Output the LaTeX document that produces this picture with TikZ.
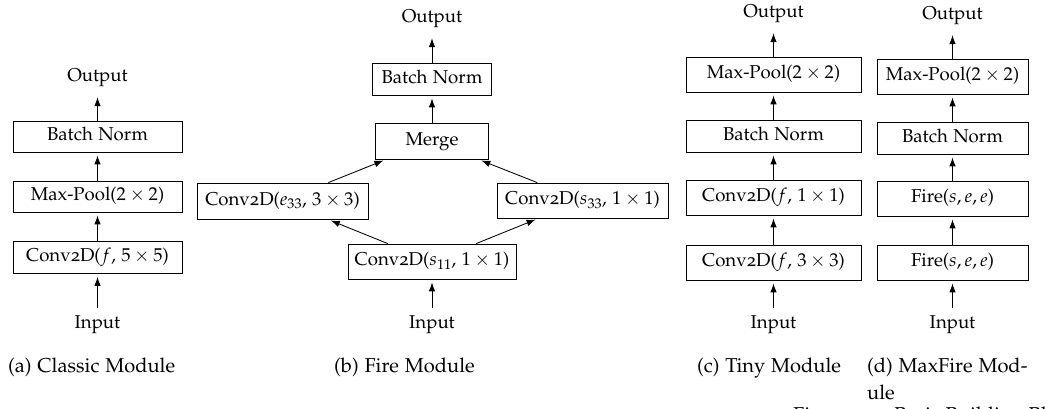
\documentclass[tikz,border=0pt]{standalone}
\usepackage[T1]{fontenc}
\usepackage[osf]{mathpazo}
\usetikzlibrary{arrows.meta}

\tikzset{
  box/.style={draw, line width=0.8pt, inner xsep=0pt, inner ysep=0pt,
              text height=13.5pt, text depth=5pt, minimum height=35pt},
  lab/.style={inner sep=0pt, anchor=base, text height=13.5pt, text depth=5pt},
  subcap/.style={inner sep=0pt, anchor=base west, font=\fontsize{20.1}{27}\selectfont},
  arr/.style={-{Latex[length=9pt,width=6.5pt]}, line width=0.85pt, shorten >=3pt},
  inarr/.style={arr, shorten <=6pt},
  outarr/.style={arr, shorten >=11pt}
}

\begin{document}
\begin{tikzpicture}[x=1pt, y=-1pt, font=\fontsize{18.6}{22}\selectfont]
\useasboundingbox (0,0) rectangle (1050,408);

% (a) classic module
\begin{scope}[every node/.append style={minimum width=169pt}]
  \node[box, minimum height=32pt] (acv) at (97.5,257.5) {Conv2D($f$, $5\times 5$)};
  \node[box, minimum height=31pt] (amp) at (97.5,196.5) {Max-Pool($2\times 2$)};
  \node[box, minimum height=31pt] (abn) at (97.5,136.5) {Batch Norm};
\end{scope}
\node[lab] (aout) at (97.5,81) {Output};
\node[lab] (ain) at (97.5,328) {Input};
\draw[inarr] (ain) -- (acv);
\draw[arr] (acv) -- (amp);
\draw[arr] (amp) -- (abn);
\draw[outarr] (abn) -- (aout);

% (b) fire module
\node[box, minimum width=168pt] (bsq) at (432,261.5) {Conv2D($s_{11}$, $1\times 1$)};
\node[box, minimum width=171pt, minimum height=36pt] (be) at (282.5,201) {Conv2D($e_{33}$, $3\times 3$)};
\node[box, minimum width=171pt] (bs) at (582.5,200.5) {Conv2D($s_{33}$, $1\times 1$)};
\node[box, minimum width=113pt, minimum height=36pt] (bmg) at (432,141) {Merge};
\node[box, minimum width=119pt, minimum height=32pt] (bbn) at (432,79) {Batch Norm};
\node[lab] (bout) at (432,22) {Output};
\node[lab] (bin) at (432,328) {Input};
\draw[inarr] (bin) -- (bsq);
\draw[arr] (bsq) -- (be);
\draw[arr] (bsq) -- (bs);
\draw[arr] (be) -- (bmg);
\draw[arr] (bs) -- (bmg);
\draw[arr] (bmg) -- (bbn);
\draw[outarr] (bbn) -- (bout);

% (c) tiny module
\begin{scope}[every node/.append style={minimum width=175pt}]
  \node[box] (ccv3) at (773.5,262.5) {Conv2D($f$, $3\times 3$)};
  \node[box] (ccv1) at (773.5,197.5) {Conv2D($f$, $1\times 1$)};
  \node[box, minimum height=32pt] (cbn) at (773.5,136) {Batch Norm};
  \node[box] (cmp) at (773.5,74.5) {Max-Pool($2\times 2$)};
\end{scope}
\node[lab] (cout) at (773.5,17) {Output};
\node[lab] (cin) at (773.5,328) {Input};
\draw[inarr] (cin) -- (ccv3);
\draw[arr] (ccv3) -- (ccv1);
\draw[arr] (ccv1) -- (cbn);
\draw[arr] (cbn) -- (cmp);
\draw[outarr] (cmp) -- (cout);

% (d) maxfire module
\begin{scope}[every node/.append style={minimum width=151pt}]
  \node[box] (df2) at (952.5,262.5) {Fire($s, e, e$)};
  \node[box] (df1) at (952.5,198.5) {Fire($s, e, e$)};
  \node[box, minimum height=32pt] (dbn) at (952.5,138) {Batch Norm};
  \node[box] (dmp) at (952.5,76.5) {Max-Pool($2\times 2$)};
\end{scope}
\node[lab] (dout) at (952.5,19) {Output};
\node[lab] (din) at (952.5,328) {Input};
\draw[inarr] (din) -- (df2);
\draw[arr] (df2) -- (df1);
\draw[arr] (df1) -- (dbn);
\draw[arr] (dbn) -- (dmp);
\draw[outarr] (dmp) -- (dout);

% sub-captions (the last one wraps onto a second line)
\node[subcap] (capa) at (8,372) {(a) Classic Module};
\node[subcap] (capb) at (334,372) {(b) Fire Module};
\node[subcap] (capc) at (697,372) {(c) Tiny Module};
\node[subcap, align=left] (capd) at (867,399) {(d) MaxFire Mod-\\ule};

% figure caption, running off the lower edge
\begin{scope}
  \clip (0,0) rectangle (1050,408);
  \node[subcap] (figcap) at (793,421) {Figure 3.1: Basic Building Blocks};
\end{scope}
\end{tikzpicture}
\end{document}
